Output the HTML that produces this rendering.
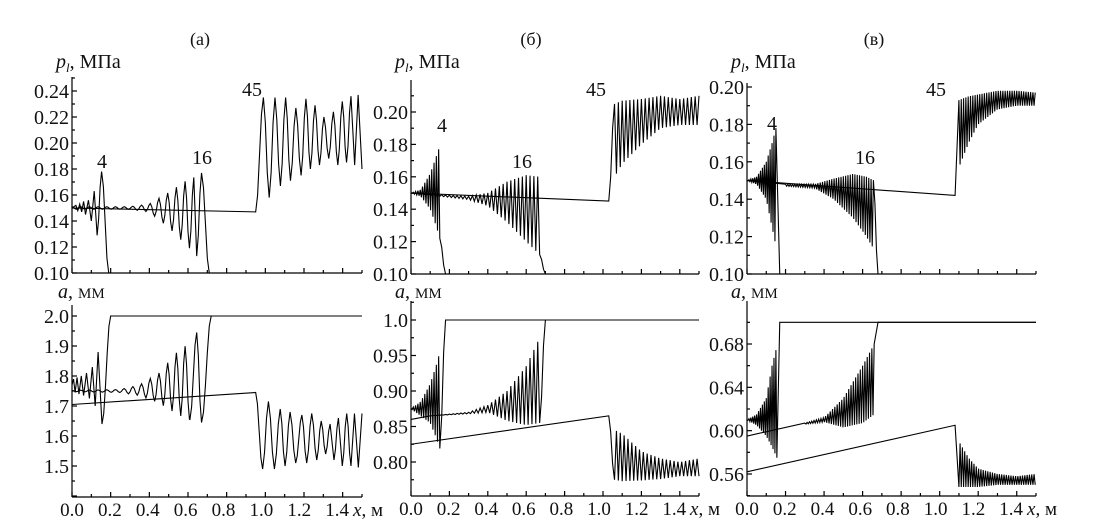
<!DOCTYPE html>
<html><head><meta charset="utf-8"><style>
html,body{margin:0;padding:0;background:#fff;}
svg{display:block;font-family:"Liberation Serif","DejaVu Serif",serif;}
.t{font-family:"Liberation Serif","DejaVu Serif",serif;font-size:20px;fill:#111;}
.tk{font-family:"Liberation Serif","DejaVu Serif",serif;font-size:20px;fill:#111;}
.tx{font-family:"Liberation Serif","DejaVu Serif",serif;font-size:19px;fill:#111;}
</style></head><body>
<svg id="fig" width="1097" height="530" viewBox="0 0 1097 530" xmlns="http://www.w3.org/2000/svg" font-family="Liberation Serif, DejaVu Serif, serif">
<g id="static">
<text class="t" x="200" y="45" text-anchor="middle" style="font-size:18px">(а)</text>
<text class="t" x="531" y="45" text-anchor="middle" style="font-size:18px">(б)</text>
<text class="t" x="874" y="45" text-anchor="middle" style="font-size:18px">(в)</text>
<text class="t" x="56" y="68"><tspan font-style="italic">p</tspan><tspan font-style="italic" font-size="13" dy="4">l</tspan><tspan dy="-4">, МПа</tspan></text>
<text class="t" x="395" y="68"><tspan font-style="italic">p</tspan><tspan font-style="italic" font-size="13" dy="4">l</tspan><tspan dy="-4">, МПа</tspan></text>
<text class="t" x="731" y="68"><tspan font-style="italic">p</tspan><tspan font-style="italic" font-size="13" dy="4">l</tspan><tspan dy="-4">, МПа</tspan></text>
<text class="t" x="58" y="298"><tspan font-style="italic">a</tspan>, <tspan font-size="15">ММ</tspan></text>
<text class="t" x="395" y="298"><tspan font-style="italic">a</tspan>, <tspan font-size="15">ММ</tspan></text>
<text class="t" x="731" y="298"><tspan font-style="italic">a</tspan>, <tspan font-size="15">ММ</tspan></text>
<text class="t" x="97" y="168">4</text>
<text class="t" x="192" y="164">16</text>
<text class="t" x="242" y="96">45</text>
<text class="t" x="437" y="132">4</text>
<text class="t" x="512" y="168">16</text>
<text class="t" x="586" y="96">45</text>
<text class="t" x="767" y="130">4</text>
<text class="t" x="855" y="164">16</text>
<text class="t" x="926" y="96">45</text>
</g>
</svg>
<script>
// ---- data: each curve = pre knots, oscillation envelope (xs, hi, lo, period), post knots
const xTicks = [0,0.2,0.4,0.6,0.8,1.0,1.2,1.4];
const xTickLabels = ["0.0","0.2","0.4","0.6","0.8","1.0","1.2","1.4"];
const aTopTicks = [0.10,0.12,0.14,0.16,0.18,0.20,0.22,0.24];
const aBotTicks = [1.5,1.6,1.7,1.8,1.9,2.0];
const bTopTicks = [0.10,0.12,0.14,0.16,0.18,0.20];
const bBotTicks = [0.80,0.85,0.90,0.95,1.00];
const bBotTickLabels = ["0.80","0.85","0.90","0.95","1.0"];
const cTopTicks = [0.10,0.12,0.14,0.16,0.18,0.20];
const cBotTicks = [0.56,0.60,0.64,0.68];

// Panel (a) top
const aT4 = [[0,0.15],[0.02,0.152],[0.03,0.148],[0.04,0.153],[0.05,0.147],[0.06,0.155],[0.07,0.145],[0.085,0.156],[0.1,0.14],[0.115,0.163],[0.13,0.129],[0.153,0.178],[0.19,0.10],[1.5,0.10]];
const aT16x = [0,0.3,0.4,0.5,0.6,0.64], aT16hi = [0.151,0.151,0.153,0.162,0.172,0.174], aT16lo = [0.149,0.149,0.147,0.135,0.12,0.115];
const aT16end = [[0.645,0.113],[0.67,0.177],[0.71,0.10],[1.5,0.10]];
const aT45 = [[0,0.15],[0.95,0.147],[0.99,0.235],[1.02,0.158],[1.05,0.235],[1.078,0.167],[1.105,0.235],[1.13,0.171],[1.158,0.227],[1.185,0.175],[1.21,0.234],[1.233,0.18],[1.257,0.229],[1.28,0.183],[1.303,0.22],[1.328,0.188],[1.352,0.224],[1.375,0.183],[1.398,0.232],[1.42,0.185],[1.443,0.236],[1.462,0.183],[1.48,0.237],[1.5,0.18]];
// Panel (a) bottom
const aB4 = [[0,1.77],[0.008,1.79],[0.016,1.745],[0.026,1.795],[0.036,1.74],[0.048,1.80],[0.06,1.735],[0.075,1.81],[0.09,1.725],[0.105,1.83],[0.12,1.70],[0.135,1.88],[0.155,1.64],[0.2,2.0],[1.5,2.0]];
const aB16x = [0,0.25,0.35,0.45,0.55,0.61], aB16hi = [1.752,1.755,1.77,1.81,1.885,1.91], aB16lo = [1.748,1.745,1.735,1.71,1.67,1.655];
const aB16end = [[0.61,1.655],[0.645,1.945],[0.67,1.645],[0.72,2.0],[1.5,2.0]];
const aB45 = [[0,1.705],[0.95,1.745],[0.986,1.49],[1.016,1.715],[1.047,1.49],[1.077,1.69],[1.102,1.50],[1.128,1.68],[1.157,1.51],[1.189,1.67],[1.214,1.51],[1.24,1.675],[1.266,1.52],[1.289,1.65],[1.312,1.54],[1.335,1.64],[1.355,1.52],[1.378,1.66],[1.398,1.50],[1.421,1.675],[1.443,1.50],[1.461,1.675],[1.481,1.495],[1.5,1.675]];
// Panel (б) top
const bT4x = [0,0.05,0.1,0.13,0.155], bT4hi = [0.15,0.152,0.162,0.172,0.181], bT4lo = [0.15,0.148,0.14,0.13,0.12];
const bT16x = [0,0.3,0.4,0.5,0.6,0.67], bT16hi = [0.15,0.148,0.15,0.157,0.161,0.16], bT16lo = [0.15,0.146,0.142,0.132,0.12,0.112];
const bT45x = [1.06,1.1,1.2,1.3,1.4,1.5], bT45hi = [0.205,0.207,0.208,0.21,0.208,0.21], bT45lo = [0.16,0.168,0.18,0.19,0.192,0.192];
// Panel (б) bottom
const bB4x = [0,0.05,0.1,0.13,0.155], bB4hi = [0.875,0.885,0.91,0.935,0.96], bB4lo = [0.875,0.865,0.855,0.835,0.815];
const bB16x = [0.1,0.3,0.4,0.5,0.6,0.67], bB16hi = [0.865,0.87,0.88,0.9,0.935,0.975], bB16lo = [0.865,0.868,0.87,0.858,0.852,0.855];
const bB45x = [1.06,1.1,1.2,1.3,1.4,1.5], bB45hi = [0.845,0.84,0.815,0.805,0.8,0.805], bB45lo = [0.775,0.773,0.774,0.776,0.78,0.78];
// Panel (в) top
const cT4x = [0,0.05,0.1,0.13,0.15], cT4hi = [0.15,0.152,0.16,0.17,0.178], cT4lo = [0.15,0.148,0.14,0.125,0.115];
const cT16x = [0.2,0.35,0.45,0.55,0.62,0.66], cT16hi = [0.148,0.148,0.151,0.1535,0.152,0.15], cT16lo = [0.147,0.146,0.14,0.13,0.12,0.113];
const cT45x = [1.1,1.15,1.2,1.3,1.4,1.5], cT45hi = [0.193,0.195,0.196,0.198,0.198,0.197], cT45lo = [0.157,0.17,0.18,0.188,0.19,0.19];
// Panel (в) bottom
const cB4x = [0,0.05,0.1,0.13,0.155], cB4hi = [0.61,0.615,0.63,0.66,0.678], cB4lo = [0.61,0.605,0.595,0.585,0.575];
const cB16x = [0.3,0.4,0.5,0.6,0.66], cB16hi = [0.607,0.612,0.63,0.66,0.68], cB16lo = [0.606,0.608,0.603,0.607,0.615];
const cB45x = [1.1,1.15,1.2,1.3,1.4,1.5], cB45hi = [0.59,0.575,0.565,0.56,0.558,0.56], cB45lo = [0.548,0.548,0.548,0.55,0.55,0.55];

const NS = "http://www.w3.org/2000/svg";
const svg = document.getElementById('fig');
function mk(tag){ return document.createElementNS(NS, tag); }

function panel(x0, x1, vA, yA, vB, yB, yTop, yBot){
  const sx = v => x0 + v/1.5*(x1-x0);
  const sy = v => yA + (v-vA)/(vB-vA)*(yB-yA);
  return {x0,x1,yTop,yBot,sx,sy};
}
const PaT = panel(72,362,0.10,273,0.24,91,77,273);
const PaB = panel(72,362,1.5,466,2.0,316,305,497);
const PbT = panel(411,699,0.10,274,0.20,112,80,274);
const PbB = panel(411,699,0.80,462,1.0,320,301,496);
const PcT = panel(747,1036,0.10,274,0.20,87,83,274);
const PcB = panel(747,1036,0.56,474,0.68,344,301,496);

function interp(xs, ys, x){
  if (x <= xs[0]) return ys[0];
  for (let i=1;i<xs.length;i++) if (x <= xs[i]) { const t=(x-xs[i-1])/(xs[i]-xs[i-1]); return ys[i-1]+t*(ys[i]-ys[i-1]); }
  return ys[ys.length-1];
}
function oscKnots(xs, hi, lo, period){
  const k = []; let up = true;
  for (let x = xs[0]; x <= xs[xs.length-1]+1e-9; x += period/2){
    k.push([x, up ? interp(xs,hi,x) : interp(xs,lo,x)]); up = !up;
  }
  return k;
}
function drawCurve(P, knots, name){
  let d = '';
  for (let i=0;i<knots.length;i++){
    if (i===0){ d += 'M'+P.sx(knots[0][0]).toFixed(2)+' '+P.sy(knots[0][1]).toFixed(2); continue; }
    const a = knots[i-1], b = knots[i];
    if (b[0]-a[0] > 0.08){ d += 'L'+P.sx(b[0]).toFixed(2)+' '+P.sy(b[1]).toFixed(2); continue; }
    const n = Math.max(2, Math.min(10, Math.ceil((P.sx(b[0])-P.sx(a[0]))/2)));
    for (let j=1;j<=n;j++){
      const t=j/n, x=a[0]+(b[0]-a[0])*t, y=a[1]+(b[1]-a[1])*(1-Math.cos(Math.PI*t))/2;
      d += 'L'+P.sx(x).toFixed(2)+' '+P.sy(y).toFixed(2);
    }
  }
  const p = mk('path');
  p.setAttribute('d', d);
  p.setAttribute('fill','none'); p.setAttribute('stroke','#000'); p.setAttribute('stroke-width','1.1');
  
  
  svg.appendChild(p);
}
function axes(P, yTicks, yLabels, name, showX){
  const g = mk('g');
  
  
  const ln = (x1,y1,x2,y2)=>{ const l=mk('line'); l.setAttribute('x1',x1);l.setAttribute('y1',y1);l.setAttribute('x2',x2);l.setAttribute('y2',y2);l.setAttribute('stroke','#000');l.setAttribute('stroke-width','1.2'); g.appendChild(l); };
  ln(P.x0,P.yTop,P.x0,P.yBot); ln(P.x0,P.yBot,P.x1,P.yBot);
  for (let v=0; v<=1.5001; v+=0.1){ const major = Math.abs(v/0.2-Math.round(v/0.2))<1e-6; ln(P.sx(v),P.yBot,P.sx(v),P.yBot-(major?5:3)); }
  const step = yTicks[1]-yTicks[0];
  for (let v=yTicks[0]-step; v<=yTicks[yTicks.length-1]+step; v+=step/2){
    const y = P.sy(v); if (y<P.yTop-0.5||y>P.yBot+0.5) continue;
    const major = Math.abs((v-yTicks[0])/step-Math.round((v-yTicks[0])/step))<1e-6;
    ln(P.x0,y,P.x0+(major?5:3),y);
  }
  yTicks.forEach((v,i)=>{
    const t = mk('text'); t.setAttribute('x',P.x0-3); t.setAttribute('y',P.sy(v)+7);
    t.setAttribute('text-anchor','end'); t.setAttribute('class','tk');
    t.textContent = yLabels ? yLabels[i] : v.toFixed(2);
    
    
    g.appendChild(t);
  });
  if (showX){
    xTicks.forEach((v,i)=>{
      const t = mk('text'); t.setAttribute('x',P.sx(v) - v*4); t.setAttribute('y',P.yBot+19);
      t.setAttribute('text-anchor','middle'); t.setAttribute('class','tx');
      t.textContent = xTickLabels[i];
      
      
      g.appendChild(t);
    });
    const t = mk('text'); t.setAttribute('x',P.x1-9); t.setAttribute('y',P.yBot+19); t.setAttribute('class','tx');
    t.innerHTML = '<tspan font-style="italic">x</tspan>, м';
    
    
    g.appendChild(t);
  }
  svg.appendChild(g);
}

axes(PaT, aTopTicks, null, 'axes-a-top', false);
axes(PaB, aBotTicks, aBotTicks.map(v=>v.toFixed(1)), 'axes-a-bottom', true);
axes(PbT, bTopTicks, null, 'axes-b-top', false);
axes(PbB, bBotTicks, bBotTickLabels, 'axes-b-bottom', true);
axes(PcT, cTopTicks, null, 'axes-c-top', false);
axes(PcB, cBotTicks, null, 'axes-c-bottom', true);

// (a)
drawCurve(PaT, aT4, 'curve-4-a-top');
drawCurve(PaT, [[0,0.15]].concat(oscKnots(aT16x,aT16hi,aT16lo,0.045),aT16end), 'curve-16-a-top');
drawCurve(PaT, aT45, 'curve-45-a-top');
drawCurve(PaB, aB4, 'curve-4-a-bottom');
drawCurve(PaB, [[0,1.75]].concat(oscKnots(aB16x,aB16hi,aB16lo,0.045),aB16end), 'curve-16-a-bottom');
drawCurve(PaB, aB45, 'curve-45-a-bottom');
// (б)
drawCurve(PbT, oscKnots(bT4x,bT4hi,bT4lo,0.012).concat([[0.18,0.10],[1.5,0.10]]), 'curve-4-b-top');
drawCurve(PbT, oscKnots(bT16x,bT16hi,bT16lo,0.02).concat([[0.7,0.10],[1.5,0.10]]), 'curve-16-b-top');
drawCurve(PbT, [[0,0.15],[1.03,0.145]].concat(oscKnots(bT45x,bT45hi,bT45lo,0.02)), 'curve-45-b-top');
drawCurve(PbB, oscKnots(bB4x,bB4hi,bB4lo,0.012).concat([[0.18,1.0],[1.5,1.0]]), 'curve-4-b-bottom');
drawCurve(PbB, [[0,0.86]].concat(oscKnots(bB16x,bB16hi,bB16lo,0.02),[[0.7,1.0],[1.5,1.0]]), 'curve-16-b-bottom');
drawCurve(PbB, [[0,0.825],[1.03,0.865]].concat(oscKnots(bB45x,bB45lo,bB45hi,0.02)), 'curve-45-b-bottom');
// (в)
drawCurve(PcT, oscKnots(cT4x,cT4hi,cT4lo,0.01).concat([[0.17,0.10],[1.5,0.10]]), 'curve-4-c-top');
drawCurve(PcT, [[0,0.15]].concat(oscKnots(cT16x,cT16hi,cT16lo,0.012),[[0.68,0.10],[1.5,0.10]]), 'curve-16-c-top');
drawCurve(PcT, [[0,0.15],[1.08,0.142]].concat(oscKnots(cT45x,cT45hi,cT45lo,0.012)), 'curve-45-c-top');
drawCurve(PcB, oscKnots(cB4x,cB4hi,cB4lo,0.01).concat([[0.17,0.70],[1.5,0.70]]), 'curve-4-c-bottom');
drawCurve(PcB, [[0,0.595]].concat(oscKnots(cB16x,cB16hi,cB16lo,0.012),[[0.68,0.70],[1.5,0.70]]), 'curve-16-c-bottom');
drawCurve(PcB, [[0,0.562],[1.08,0.605]].concat(oscKnots(cB45x,cB45lo,cB45hi,0.012)), 'curve-45-c-bottom');
</script>
</body></html>
